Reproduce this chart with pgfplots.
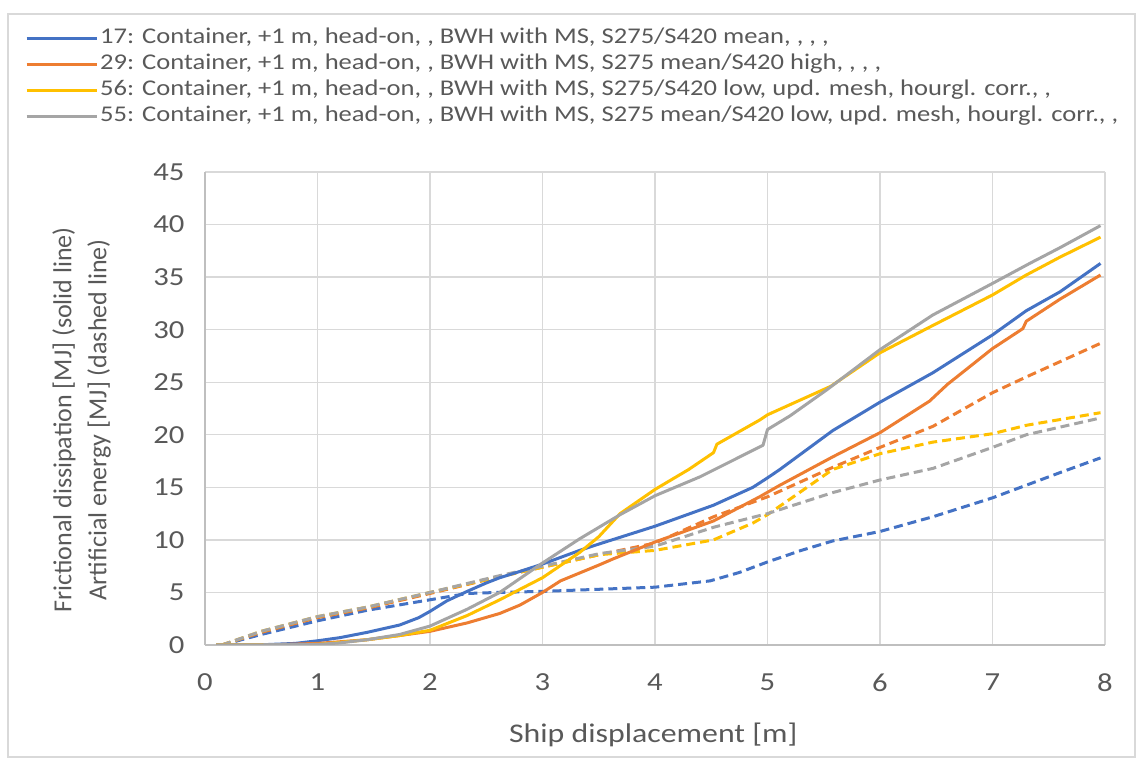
\documentclass[border=0pt]{standalone}
\usepackage{fontspec}
\setmainfont{Carlito}[FakeStretch=1.18]
\newfontfamily\rotfont{Carlito}
\usepackage{pgfplots}
\pgfplotsset{compat=1.18}

\definecolor{sblue}{HTML}{4472C4}
\definecolor{sorange}{HTML}{ED7D31}
\definecolor{syellow}{HTML}{FFC000}
\definecolor{sgray}{HTML}{A5A5A5}
\definecolor{textgray}{HTML}{595959}
\definecolor{gridgray}{HTML}{D9D9D9}
\definecolor{axisgray}{HTML}{BFBFBF}

\begin{document}
\begin{tikzpicture}[x=1bp,y=1bp]
\path[use as bounding box] (0,0) rectangle (1141,762);
\draw[gridgray, line width=1.5bp] (8,5) rectangle (1135,748);
\begin{axis}[
  at={(205bp,117bp)}, anchor=south west,
  scale only axis, width=900bp, height=473bp,
  xmin=0, xmax=8, ymin=0, ymax=45,
  xtick={0,1,...,8}, ytick={0,5,...,45},
  axis lines*=left,
  axis line style={-, draw=axisgray, line width=1.3bp},
  grid=major,
  major grid style={draw=gridgray, line width=1.3bp},
  major tick length=0pt,
  /pgf/number format/assume math mode=true,
  ticklabel style={font=\fontsize{26bp}{30bp}\selectfont, text=textgray},
  xticklabel style={yshift=-25bp},
  yticklabel style={xshift=-17bp},
  xlabel={Ship displacement [m]},
  xlabel style={font=\fontsize{27bp}{32bp}\selectfont, text=textgray,
    at={(axis description cs:0.498,-0.207)}, anchor=base},
  ylabel={Frictional dissipation [MJ] (solid line)\\Artificial energy [MJ] (dashed line)},
  ylabel style={font=\rotfont\fontsize{26bp}{35bp}\selectfont, text=textgray,
    align=center, at={(axis description cs:-0.137,0.476)}, anchor=center},
  legend style={at={(axis description cs:-0.2,1.31)}, anchor=north west,
    draw=none, fill=none, inner sep=0pt,
    font=\fontsize{22.5bp}{25bp}\selectfont, text=textgray,
    nodes={text height=16bp, text depth=6bp, inner sep=2bp},
    row sep=0bp},
  legend cell align=left,
  legend image code/.code={\draw[#1] (0bp,0bp) -- (70bp,0bp);},
  every axis plot/.append style={line width=3bp, line join=round},
  dashstyle/.style={dash pattern=on 9bp off 5bp},
]

% artificial energy (dashed)
\addplot[sblue, dashstyle, forget plot] coordinates {
 (0.15,0) (0.5,1.0) (1.0,2.3) (1.44,3.3) (2.0,4.3) (2.33,4.9) (2.6,5.0)
 (3.0,5.1) (3.5,5.3) (4.0,5.5) (4.49,6.1) (4.75,6.9) (5.0,7.9) (5.3,9.0)
 (5.58,9.9) (6.0,10.8) (6.47,12.2) (7.0,14.0) (7.3,15.2) (7.6,16.4) (7.96,17.8)};
\addplot[sorange, dashstyle, forget plot] coordinates {
 (0.15,0) (0.5,1.2) (1.0,2.6) (1.44,3.5) (2.0,4.9) (2.62,6.5) (3.0,7.4)
 (3.51,8.6) (4.0,9.7) (4.52,12.2) (5.0,14.1) (5.58,16.9) (6.0,18.8)
 (6.47,20.8) (7.0,24.0) (7.3,25.5) (7.96,28.7)};
\addplot[syellow, dashstyle, forget plot] coordinates {
 (0.15,0) (0.5,1.3) (1.0,2.7) (1.44,3.6) (2.0,5.0) (2.62,6.5) (3.0,7.4)
 (3.51,8.6) (4.0,9.0) (4.52,10.0) (4.87,11.6) (5.0,12.4) (5.23,14.1)
 (5.58,16.7) (6.0,18.2) (6.47,19.3) (7.0,20.1) (7.3,20.9) (7.96,22.1)};
\addplot[sgray, dashstyle, forget plot] coordinates {
 (0.15,0) (0.5,1.3) (1.0,2.7) (1.44,3.6) (2.0,5.0) (2.62,6.6) (3.0,7.5)
 (3.51,8.7) (4.0,9.4) (4.52,11.2) (5.0,12.5) (5.58,14.5) (6.0,15.7)
 (6.47,16.8) (7.0,18.8) (7.3,20.0) (7.96,21.6)};

% frictional dissipation (solid)
\addplot[sblue] coordinates {
 (0.1,0) (0.5,0.02) (0.8,0.15) (1.0,0.4) (1.2,0.7) (1.44,1.2) (1.73,1.9)
 (1.9,2.6) (2.0,3.2) (2.15,4.2) (2.33,5.1) (2.5,5.9) (2.62,6.4) (2.8,7.0)
 (3.0,7.7) (3.33,9.0) (3.5,9.6) (4.0,11.3) (4.52,13.3) (4.87,15.0) (5.0,15.9)
 (5.11,16.7) (5.58,20.4) (6.0,23.1) (6.47,25.9) (7.0,29.5) (7.3,31.8)
 (7.6,33.6) (7.96,36.3)};
\addlegendentry{17: Container, +1 m, head-on, , BWH with MS, S275/S420 mean, , , ,}
\addplot[sorange] coordinates {
 (0.1,0) (0.6,0.02) (1.0,0.15) (1.44,0.5) (1.73,0.9) (2.0,1.3) (2.33,2.1)
 (2.62,3.0) (2.8,3.8) (3.0,5.0) (3.16,6.1) (3.5,7.6) (3.63,8.2) (4.0,9.8)
 (4.52,11.8) (4.93,14.1) (5.11,15.2) (5.58,17.9) (6.0,20.2) (6.44,23.2)
 (6.6,24.8) (7.0,28.2) (7.27,30.1) (7.3,30.8) (7.6,32.9) (7.96,35.2)};
\addlegendentry{29: Container, +1 m, head-on, , BWH with MS, S275 mean/S420 high, , , ,}
\addplot[syellow] coordinates {
 (0.1,0) (1.0,0.05) (1.44,0.5) (1.73,0.9) (2.0,1.4) (2.33,2.8) (2.62,4.3)
 (2.8,5.3) (3.0,6.4) (3.33,8.8) (3.5,10.3) (3.69,12.5) (4.0,14.8) (4.3,16.7)
 (4.52,18.3) (4.55,19.1) (4.93,21.4) (5.0,21.9) (5.56,24.6) (6.0,27.8)
 (6.47,30.4) (7.0,33.3) (7.3,35.2) (7.6,36.9) (7.96,38.8)};
\addlegendentry{56: Container, +1 m, head-on, , BWH with MS, S275/S420 low, upd. mesh, hourgl. corr., ,}
\addplot[sgray] coordinates {
 (0.1,0) (1.0,0.05) (1.2,0.2) (1.44,0.5) (1.73,1.0) (2.0,1.8) (2.33,3.4)
 (2.62,5.0) (3.0,7.8) (3.33,10.1) (3.69,12.4) (4.0,14.2) (4.4,16.0)
 (4.96,19.0) (5.0,20.5) (5.2,21.8) (5.53,24.3) (6.0,28.1) (6.47,31.4)
 (7.0,34.4) (7.33,36.3) (7.6,37.8) (7.96,39.9)};
\addlegendentry{55: Container, +1 m, head-on, , BWH with MS, S275 mean/S420 low, upd. mesh, hourgl. corr., ,}
\end{axis}
\end{tikzpicture}
\end{document}
